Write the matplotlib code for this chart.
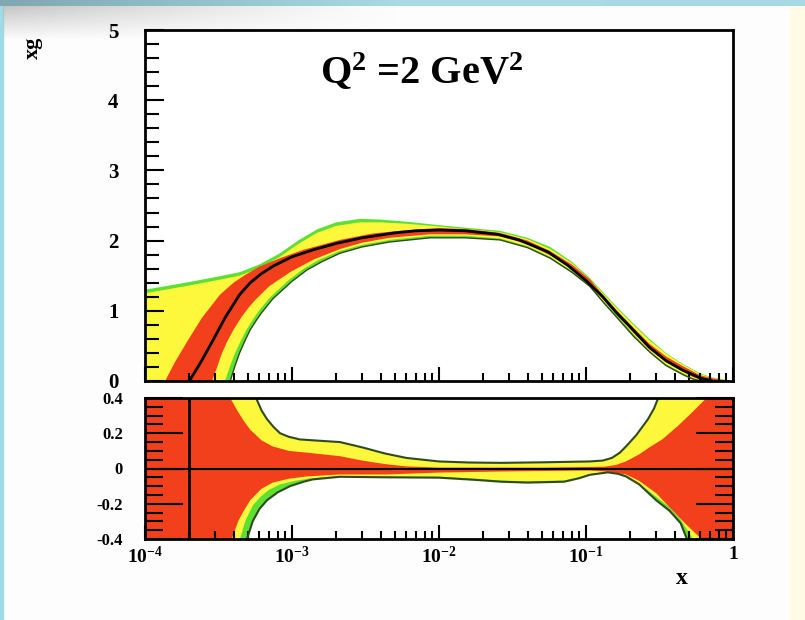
import numpy as np
import matplotlib.pyplot as plt
from matplotlib.patches import Rectangle
from matplotlib.colors import LinearSegmentedColormap
from matplotlib.ticker import FixedLocator, MultipleLocator, NullFormatter

plt.rcParams['font.family'] = ['Liberation Serif', 'DejaVu Serif']
plt.rcParams['font.weight'] = 'bold'
plt.rcParams['mathtext.default'] = 'regular'

# ---- top panel : xg at Q2 = 2 GeV2 ----
central_x = [2.0e-4, 2.2e-4, 2.4e-4, 2.9e-4, 3.5e-4, 4.4e-4, 5.2e-4, 6.2e-4, 7.5e-4, 1e-3,
             1.4e-3, 2e-3, 3e-3, 5e-3, 7e-3, 1e-2, 1.5e-2, 2.5e-2, 3.5e-2, 5.5e-2,
             7.5e-2, 0.1, 0.13, 0.16, 0.2, 0.27, 0.35, 0.45, 0.6, 0.72]
central_y = [0.0, 0.14, 0.27, 0.58, 0.90, 1.23, 1.40, 1.53, 1.64, 1.77,
             1.87, 1.96, 2.04, 2.11, 2.14, 2.15, 2.14, 2.09, 2.01, 1.84,
             1.65, 1.43, 1.20, 0.98, 0.77, 0.48, 0.29, 0.16, 0.04, 0.0]

# outer (parametrisation) band
upper_x = [1e-4, 2e-4, 3e-4, 4.4e-4, 6e-4, 8.3e-4, 1.1e-3, 1.48e-3, 2e-3, 2.9e-3,
           4e-3, 6e-3, 1e-2, 1.6e-2, 2.6e-2, 4e-2, 5.7e-2, 8e-2, 0.106, 0.13,
           0.163, 0.21, 0.27, 0.35, 0.457, 0.6, 0.72, 0.82, 1.0]
green_hi_y = [1.30, 1.41, 1.48, 1.55, 1.66, 1.82, 2.00, 2.16, 2.26, 2.31,
              2.30, 2.27, 2.22, 2.18, 2.14, 2.04, 1.91, 1.70, 1.47, 1.27,
              1.05, 0.82, 0.60, 0.40, 0.24, 0.11, 0.05, 0.03, 0.0]
green_lo_x = [3.8e-4, 4.1e-4, 4.4e-4, 4.8e-4, 5.2e-4, 5.7e-4, 6.2e-4, 7.4e-4, 1e-3, 1.26e-3,
              1.6e-3, 2.12e-3, 3e-3, 4.6e-3, 8.7e-3, 1.5e-2, 2.6e-2, 4e-2, 5.7e-2, 8e-2,
              0.106, 0.13, 0.163, 0.21, 0.272, 0.35, 0.457, 0.53, 0.6]
green_lo_y = [0.0, 0.22, 0.40, 0.58, 0.73, 0.86, 0.97, 1.17, 1.42, 1.58,
              1.70, 1.82, 1.91, 1.98, 2.04, 2.04, 2.01, 1.90, 1.75, 1.55,
              1.35, 1.13, 0.90, 0.64, 0.41, 0.22, 0.09, 0.03, 0.0]

# model band
yellow_hi_y = [1.25, 1.36, 1.43, 1.50, 1.61, 1.77, 1.95, 2.11, 2.21, 2.26,
               2.26, 2.24, 2.20, 2.16, 2.12, 2.02, 1.88, 1.68, 1.45, 1.25,
               1.03, 0.80, 0.58, 0.39, 0.23, 0.10, 0.04, 0.02, 0.0]
yellow_lo_x = [3.5e-4, 3.8e-4, 4.1e-4, 4.5e-4, 4.9e-4, 5.4e-4, 5.9e-4, 7.0e-4, 9.4e-4, 1.2e-3,
               1.5e-3, 2.1e-3, 3e-3, 4.6e-3, 8.7e-3, 1.5e-2, 2.6e-2, 4e-2, 5.7e-2, 8e-2,
               0.106, 0.13, 0.163, 0.21, 0.27, 0.35, 0.457, 0.53, 0.6, 0.65]
yellow_lo_y = [0.0, 0.22, 0.40, 0.58, 0.73, 0.87, 0.99, 1.18, 1.43, 1.60,
               1.72, 1.85, 1.94, 2.01, 2.07, 2.07, 2.03, 1.92, 1.77, 1.57,
               1.37, 1.15, 0.93, 0.67, 0.43, 0.24, 0.11, 0.04, 0.01, 0.0]

# experimental band
red_hi_x = [1.37e-4, 1.6e-4, 1.96e-4, 2.44e-4, 3.24e-4, 4e-4, 4.79e-4, 6e-4, 8.3e-4, 1.2e-3,
            2.12e-3, 3.5e-3, 5.4e-3, 1e-2, 1.6e-2, 2.6e-2, 4e-2, 5.7e-2, 8e-2, 0.106,
            0.13, 0.163, 0.21, 0.27, 0.35, 0.457, 0.6, 0.72, 0.82, 1.0]
red_hi_y = [0.0, 0.27, 0.58, 0.90, 1.23, 1.40, 1.51, 1.63, 1.75, 1.87,
            2.01, 2.10, 2.14, 2.18, 2.16, 2.11, 2.00, 1.85, 1.66, 1.45,
            1.23, 1.00, 0.76, 0.53, 0.35, 0.21, 0.08, 0.04, 0.02, 0.0]
red_lo_x = [2.86e-4, 3.1e-4, 3.3e-4, 3.6e-4, 4.0e-4, 4.5e-4, 5.0e-4, 5.6e-4, 7e-4, 9.7e-4,
            1.4e-3, 2.12e-3, 3e-3, 4.6e-3, 8.7e-3, 1.5e-2, 2.6e-2, 4e-2, 5.7e-2, 8e-2,
            0.106, 0.13, 0.163, 0.21, 0.27, 0.35, 0.457, 0.53, 0.6, 0.65]
red_lo_y = [0.0, 0.20, 0.37, 0.55, 0.73, 0.90, 1.03, 1.15, 1.35, 1.55,
            1.73, 1.88, 1.97, 2.04, 2.09, 2.09, 2.06, 1.95, 1.79, 1.60,
            1.39, 1.17, 0.94, 0.69, 0.45, 0.27, 0.13, 0.06, 0.02, 0.0]

# ---- bottom panel : relative uncertainty ----
out_hi_rx = [5.7e-4, 6.2e-4, 6.76e-4, 7.5e-4, 8.3e-4, 9.5e-4, 1.13e-3, 1.5e-3, 2.12e-3, 3e-3,
             4.3e-3, 6e-3, 1e-2, 1.6e-2, 2.64e-2, 5e-2, 0.106, 0.13, 0.15, 0.17,
             0.187, 0.22, 0.264, 0.29, 0.31]
out_hi_r = [0.40, 0.33, 0.28, 0.235, 0.20, 0.18, 0.165, 0.158, 0.15, 0.12,
            0.085, 0.06, 0.04, 0.034, 0.032, 0.035, 0.04, 0.045, 0.06, 0.09,
            0.125, 0.19, 0.28, 0.34, 0.40]
red_hi_rx = [3.8e-4, 4.2e-4, 4.7e-4, 5.2e-4, 6.2e-4, 7.4e-4, 9.5e-4, 1.26e-3, 2.12e-3, 3e-3,
             4.3e-3, 6e-3, 1e-2, 5e-2, 0.133, 0.16, 0.187, 0.23, 0.27, 0.33,
             0.42, 0.53, 0.66]
red_hi_r = [0.40, 0.335, 0.27, 0.22, 0.16, 0.125, 0.10, 0.09, 0.07, 0.045,
            0.025, 0.012, 0.005, 0.005, 0.01, 0.02, 0.04, 0.08, 0.12, 0.165,
            0.24, 0.32, 0.40]
red_lo_rx = [3.9e-4, 4.3e-4, 4.7e-4, 5.2e-4, 6.2e-4, 7.4e-4, 9.5e-4, 1.26e-3, 2.12e-3, 4.3e-3,
             1e-2, 2.64e-2, 0.106, 0.15, 0.187, 0.23, 0.3, 0.37, 0.47, 0.61]
red_lo_r = [-0.40, -0.30, -0.24, -0.18, -0.115, -0.08, -0.058, -0.045, -0.034, -0.034,
            -0.023, -0.017, -0.011, -0.02, -0.034, -0.07, -0.14, -0.22, -0.31, -0.40]
yel_lo_rx = [4.43e-4, 4.8e-4, 5.4e-4, 6.2e-4, 7e-4, 8.3e-4, 1.05e-3, 1.3e-3, 2.12e-3, 4.3e-3,
             1e-2, 1.8e-2, 2.64e-2, 4e-2, 7.1e-2, 0.09, 0.106, 0.141, 0.165, 0.187,
             0.23, 0.30, 0.37, 0.44, 0.535]
yel_lo_r = [-0.40, -0.30, -0.21, -0.155, -0.12, -0.09, -0.07, -0.057, -0.042, -0.046,
            -0.046, -0.058, -0.068, -0.073, -0.068, -0.05, -0.032, -0.018, -0.025, -0.04,
            -0.085, -0.16, -0.22, -0.29, -0.40]
out_lo_rx = [4.94e-4, 5.4e-4, 6.0e-4, 6.76e-4, 8e-4, 9.7e-4, 1.2e-3, 1.38e-3, 2.12e-3, 4.3e-3,
             1e-2, 1.8e-2, 2.64e-2, 4e-2, 7.1e-2, 0.09, 0.106, 0.141, 0.165, 0.187,
             0.23, 0.30, 0.37, 0.44, 0.486]
out_lo_r = [-0.40, -0.30, -0.23, -0.18, -0.135, -0.10, -0.075, -0.062, -0.047, -0.05,
            -0.052, -0.065, -0.075, -0.08, -0.075, -0.055, -0.036, -0.022, -0.03, -0.045,
            -0.09, -0.18, -0.24, -0.31, -0.40]
x_zero = 2.0e-4

x_ticks = [1e-4, 1e-3, 1e-2, 1e-1, 1]
x_ticklabels = ['10$^{-4}$', '10$^{-3}$', '10$^{-2}$', '10$^{-1}$', '1']
r_ticks = [-0.4, -0.2, 0, 0.2, 0.4]
r_ticklabels = ['-0.4', '-0.2', '0', '0.2', '0.4']
xmin, xmax = 1e-4, 1.0

RED = '#f1401b'
YELLOW = '#fdf83c'
GREEN = '#5ee032'
EDGE = '#2f4a1c'

fig = plt.figure(figsize=(8.05, 6.2), dpi=100)
fig.patch.set_facecolor('#fdfdfd')

# slide decoration
fig.add_artist(Rectangle((0, 0), 0.004, 1, transform=fig.transFigure, color='#9edbe6', zorder=0))
fig.add_artist(Rectangle((0.981, 0), 0.019, 1, transform=fig.transFigure, color='#fffbe4', zorder=0))
shade = fig.add_axes([0.004, 1 - 40 / 620, 0.5, 34 / 620])
rgba = np.zeros((40, 200, 4))
rgba[..., :3] = 0.72
rgba[..., 3] = np.outer(np.linspace(0.8, 0, 40), np.linspace(1, 0, 200) ** 1.3)
shade.imshow(rgba, aspect='auto')
shade.axis('off')
strip = fig.add_axes([0, 1 - 6 / 620, 1, 6 / 620])
strip.imshow(np.linspace(0, 1, 200).reshape(1, -1), aspect='auto',
             cmap=LinearSegmentedColormap.from_list('s', ['#7fa8b0', '#a9dbe4', '#a7d9e6']))
strip.axis('off')

ax1 = fig.add_axes([145 / 805, 1 - 381 / 620, 588 / 805, 351 / 620])
ax2 = fig.add_axes([145 / 805, 1 - 539 / 620, 588 / 805, 141 / 620])

# top panel bands
ax1.fill(upper_x + green_lo_x[::-1] + [xmin], green_hi_y + green_lo_y[::-1] + [0],
         color=GREEN, lw=0)
ax1.fill(upper_x + yellow_lo_x[::-1] + [xmin], yellow_hi_y + yellow_lo_y[::-1] + [0],
         color=YELLOW, lw=0)
ax1.fill(red_hi_x + red_lo_x[::-1], red_hi_y + red_lo_y[::-1], color=RED, lw=0)
ax1.plot(green_lo_x, green_lo_y, color=EDGE, lw=1.0)
ax1.plot(central_x, central_y, color='black', lw=2)

ax1.text(0.47, 0.88, 'Q$^2$ =2 GeV$^2$', transform=ax1.transAxes, ha='center',
         va='center', fontsize=29)

# bottom panel bands
ax2.fill([xmin] + out_hi_rx + [xmax, xmax] + out_lo_rx[::-1] + [xmin],
         [0.4] + out_hi_r + [0.4, -0.4] + out_lo_r[::-1] + [-0.4], color=GREEN, lw=0)
ax2.fill([xmin] + out_hi_rx + [xmax, xmax] + yel_lo_rx[::-1] + [xmin],
         [0.4] + out_hi_r + [0.4, -0.4] + yel_lo_r[::-1] + [-0.4], color=YELLOW, lw=0)
ax2.fill([xmin] + red_hi_rx + [xmax, xmax] + red_lo_rx[::-1] + [xmin],
         [0.4] + red_hi_r + [0.4, -0.4] + red_lo_r[::-1] + [-0.4], color=RED, lw=0)
ax2.plot(out_hi_rx, out_hi_r, color=EDGE, lw=1.5)
ax2.plot(out_lo_rx, out_lo_r, color=EDGE, lw=1.5)
ax2.axhline(0, color='black', lw=1.5)
ax2.axvline(x_zero, color='black', lw=2)

for ax in (ax1, ax2):
    ax.set_xscale('log')
    ax.set_xlim(xmin, xmax)
    ax.set_facecolor('white')
    for s in ax.spines.values():
        s.set_linewidth(2)
    ax.xaxis.set_major_locator(FixedLocator(x_ticks))
    ax.xaxis.set_minor_locator(FixedLocator(
        [m * 10.0 ** e for e in range(-4, 0) for m in range(2, 10)]))
    ax.xaxis.set_minor_formatter(NullFormatter())
    ax.tick_params(axis='x', which='major', direction='in', length=10, width=1.5, top=False)
    ax.tick_params(axis='x', which='minor', direction='in', length=6, width=1.5, top=False)

ax1.set_ylim(0, 5)
ax1.yaxis.set_major_locator(MultipleLocator(1))
ax1.yaxis.set_minor_locator(MultipleLocator(0.2))
ax1.tick_params(axis='y', which='major', direction='in', length=14, width=1.5,
                labelsize=15, pad=19, right=False)
ax1.tick_params(axis='y', which='minor', direction='in', length=10, width=1.5, right=False)
ax1.tick_params(axis='x', labelbottom=False)

ax2.set_ylim(-0.4, 0.4)
ax2.yaxis.set_major_locator(FixedLocator(r_ticks))
ax2.yaxis.set_minor_locator(MultipleLocator(0.05))
ax2.set_yticklabels(r_ticklabels)
ax2.tick_params(axis='y', which='major', direction='in', length=27, width=1.5,
                labelsize=12, pad=16, right=True)
ax2.tick_params(axis='y', which='minor', direction='in', length=13, width=1.5, right=True)
ax2.set_xticklabels(x_ticklabels)
ax2.tick_params(axis='x', labelsize=14, pad=5)

fig.text(33 / 805, 1 - 48 / 620, 'xg', rotation=90, ha='center', va='center', fontsize=16)
fig.text(682 / 805, 1 - 578 / 620, 'x', ha='center', va='center', fontsize=17)

fig.savefig('out.png', dpi=100, facecolor=fig.get_facecolor())
